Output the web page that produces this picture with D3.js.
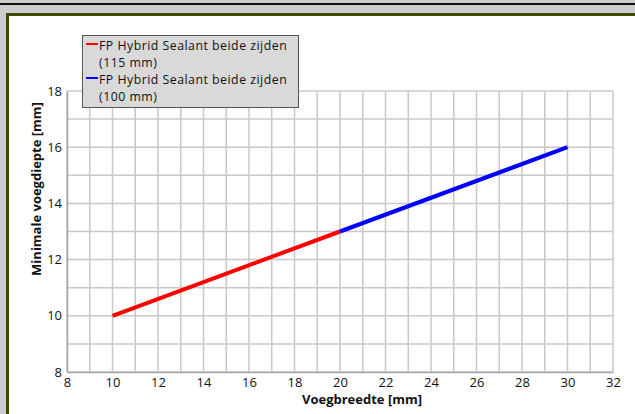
<!DOCTYPE html>
<html><head><meta charset="utf-8">
<script src="https://cdn.jsdelivr.net/npm/d3@7/dist/d3.min.js"></script>
<style>
html,body{margin:0;padding:0;background:#cccccc;overflow:hidden;}
svg{display:block;}
text{font-family:"Open Sans",sans-serif;}
</style></head><body>
<svg id="c" width="635" height="414"></svg>
<script>
const seriesNames = ["FP Hybrid Sealant beide zijden|(115 mm)", "FP Hybrid Sealant beide zijden|(100 mm)"];
const seriesColors = ["#ff0000", "#0000ff"];
const series115 = [[10, 10], [20, 13]];
const series100 = [[20, 13], [30, 16]];
const xTicks = [8, 10, 12, 14, 16, 18, 20, 22, 24, 26, 28, 30, 32];
const yTicks = [8, 10, 12, 14, 16, 18];
const xTitle = "Voegbreedte [mm]";
const yTitle = "Minimale voegdiepte [mm]";

const svg = d3.select("#c");
// frame
svg.append("rect").attr("x",0).attr("y",0).attr("width",635).attr("height",414).attr("fill","#cccccc");
svg.append("rect").attr("x",0).attr("y",3).attr("width",635).attr("height",2).attr("fill","#111");
svg.append("rect").attr("x",7.5).attr("y",14.5).attr("width",640).attr("height",410)
  .attr("fill","#ffffff").attr("stroke","#3f4b00").attr("stroke-width",3);

const x = d3.scaleLinear().domain([8,32]).range([67,613]);
const y = d3.scaleLinear().domain([8,18]).range([372,91]);

const g = svg.append("g");
// grid
d3.range(8,33,1).forEach(v=>{
  g.append("line").attr("x1",x(v)).attr("x2",x(v)).attr("y1",y(8)).attr("y2",y(18))
    .attr("stroke","#c8c8c8").attr("stroke-width",1.5);
});
d3.range(8,19,1).forEach(v=>{
  g.append("line").attr("x1",x(8)).attr("x2",x(32)).attr("y1",y(v)).attr("y2",y(v))
    .attr("stroke","#c8c8c8").attr("stroke-width",1.5);
});
// axes
const xAxis = d3.axisBottom(x).tickValues(xTicks).tickSize(0).tickPadding(6);
const yAxis = d3.axisLeft(y).tickValues(yTicks).tickSize(0).tickPadding(5);
const gx = svg.append("g").attr("transform",`translate(0,${y(8)})`).call(xAxis);
const gy = svg.append("g").attr("transform",`translate(${x(8)},0)`).call(yAxis);
[gx,gy].forEach(a=>{
  a.select(".domain").attr("stroke","#a6a6a6").attr("stroke-width",1.5);
  a.selectAll("text").attr("font-family","Open Sans").attr("font-size",13).attr("fill","#111");
});
// title
svg.append("text").attr("x",362).attr("y",404).attr("text-anchor","middle")
  .attr("font-weight","bold").attr("font-size",13).attr("fill","#111").text(xTitle);
svg.append("text").attr("transform","translate(41,189) rotate(-90)").attr("text-anchor","middle")
  .attr("font-weight","bold").attr("font-size",13).attr("fill","#111").text(yTitle);

// lines
const line = d3.line().x(d=>x(d[0])).y(d=>y(d[1]));
[series115, series100].forEach((s,i)=>{
  svg.append("path").datum(s).attr("d",line).attr("fill","none")
    .attr("stroke",seriesColors[i]).attr("stroke-width",4);
});

// legend
const lg = svg.append("g");
lg.append("rect").attr("x",82.5).attr("y",35.5).attr("width",216).attr("height",72)
  .attr("fill","#d9d9d9").attr("stroke","#555").attr("stroke-width",1);
seriesNames.forEach((n,i)=>{
  const parts = n.split("|");
  const by = 44 + i*34;
  lg.append("line").attr("x1",86).attr("x2",98).attr("y1",by).attr("y2",by)
    .attr("stroke",seriesColors[i]).attr("stroke-width",2);
  parts.forEach((p,j)=>{
    lg.append("text").attr("x",99).attr("y",by+6.3+j*16.9)
      .attr("font-size",12.3).attr("letter-spacing",0.5).attr("fill","#111").text(p);
  });
});
</script></body></html>
